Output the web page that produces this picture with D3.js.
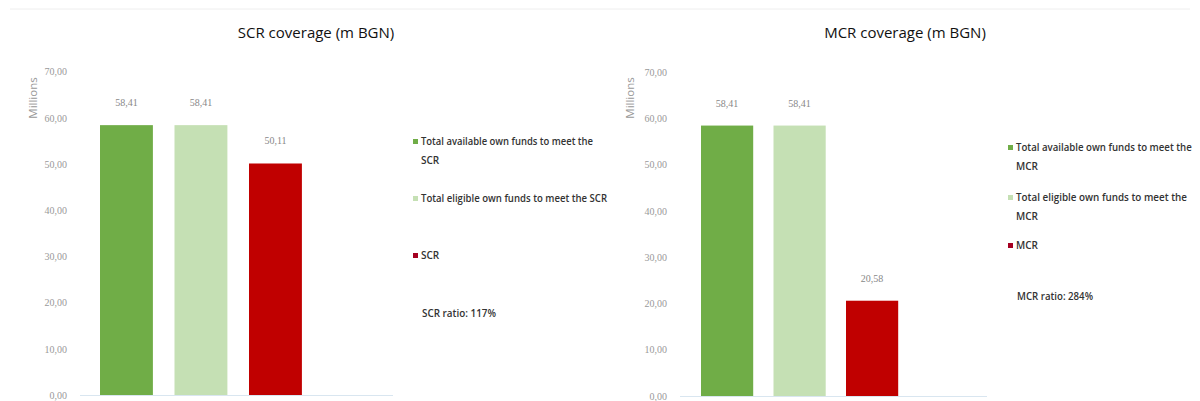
<!DOCTYPE html>
<html><head><meta charset="utf-8">
<script src="https://cdn.jsdelivr.net/npm/d3@7/dist/d3.min.js"></script>
<style>body{margin:0;background:#fff}svg{display:block}</style>
</head><body><svg id="c" width="1200" height="401"></svg>
<script>
const categories = ["Total available own funds", "Total eligible own funds", "Requirement"];
const scrValues = [58.41, 58.41, 50.11];
const mcrValues = [58.41, 58.41, 20.58];
const yTicks = [0, 10, 20, 30, 40, 50, 60, 70];
const barColors = ["#70AD47", "#C5E0B4", "#C00000"];
const legendColors = ["#70AD47", "#C5E0B4", "#A50021"];
const scrLegend = [["Total available own funds to meet the", "SCR"], ["Total eligible own funds to meet the SCR"], ["SCR"]];
const mcrLegend = [["Total available own funds to meet the", "MCR"], ["Total eligible own funds to meet the", "MCR"], ["MCR"]];
const titles = ["SCR coverage (m BGN)", "MCR coverage (m BGN)"];
const ratios = ["SCR ratio: 117%", "MCR ratio: 284%"];

const svg = d3.select("#c");
const fmt = v => d3.format(".2f")(v).replace(".", ",");

svg.append("line").attr("x1",10).attr("x2",1190).attr("y1",9).attr("y2",9).attr("stroke","#eeeeee");

function panel(cfg) {
  const g = svg.append("g");
  const y = d3.scaleLinear().domain([0, 70]).range([cfg.base, cfg.base - 7 * cfg.step]);
  const x = d3.scaleBand().domain(categories).range([cfg.x0, cfg.x1]).paddingInner(cfg.pad).paddingOuter(cfg.padOut);
  g.append("text").attr("x", cfg.titleX).attr("y", 38).attr("text-anchor", "middle")
    .attr("font-family", "Open Sans, sans-serif").attr("font-size", 15).attr("fill", "#111")
    .text(cfg.title);
  const ax = g.append("g").attr("transform", `translate(${cfg.axisX},0)`)
    .call(d3.axisLeft(y).tickValues(yTicks).tickFormat(fmt).tickSize(0).tickPadding(0));
  ax.select(".domain").remove();
  ax.selectAll("text").attr("font-family", "Liberation Serif, serif").attr("font-size", 10).attr("fill", "#999");
  g.append("text").attr("transform", `translate(${cfg.millX},${cfg.millY}) rotate(-90)`)
    .attr("text-anchor", "middle").attr("font-family", "Open Sans, sans-serif").attr("font-size", 11.5).attr("fill", "#999")
    .text("Millions");
  g.append("line").attr("x1", cfg.lineX0).attr("x2", cfg.lineX1).attr("y1", cfg.base + 0.5).attr("y2", cfg.base + 0.5)
    .attr("stroke", "#d9e6f0");
  g.selectAll("rect.bar").data(cfg.values).join("rect").attr("class", "bar")
    .attr("x", (d, i) => x(categories[i])).attr("width", x.bandwidth())
    .attr("y", d => y(d)).attr("height", d => cfg.base - y(d)).attr("fill", (d, i) => barColors[i]);
  g.selectAll("text.val").data(cfg.values).join("text").attr("class", "val")
    .attr("x", (d, i) => x(categories[i]) + x.bandwidth() / 2).attr("y", d => y(d) - 19)
    .attr("text-anchor", "middle").attr("font-family", "Liberation Serif, serif").attr("font-size", 10).attr("fill", "#888")
    .text(fmt);
  cfg.legend.forEach((lines, i) => {
    const ly = cfg.legY[i];
    g.append("rect").attr("x", cfg.legX - 8).attr("y", ly - 6).attr("width", 5).attr("height", 5).attr("fill", legendColors[i]);
    lines.forEach((ln, j) => {
      const t = g.append("text").attr("x", cfg.legX).attr("y", ly + j * cfg.lineH)
        .attr("font-family", "Open Sans, sans-serif").attr("font-size", 10).attr("font-weight", 600)
        .attr("fill", "#333").text(ln);
      if (ln.length > 30) t.attr("textLength", ln.length * cfg.charW).attr("lengthAdjust", "spacingAndGlyphs");
    });
  });
  g.append("text").attr("x", cfg.legX + 1).attr("y", cfg.ratioY)
    .attr("font-family", "Open Sans, sans-serif").attr("font-size", 10).attr("font-weight", 600).attr("fill", "#333")
    .text(cfg.ratio).attr("textLength", cfg.ratioW).attr("lengthAdjust", "spacingAndGlyphs");
}

panel({title: titles[0], titleX: 316, values: scrValues, legend: scrLegend, ratio: ratios[0],
  base: 395, step: 46.2, axisX: 67, x0: 85.1, x1: 316.8, pad: 0.29, padOut: 0.2, lineX0: 80, lineX1: 393,
  millX: 37, millY: 98, legX: 421, legY: [145, 202, 259], lineH: 19, charW: 4.65, ratioY: 317, ratioW: 74});
panel({title: titles[1], titleX: 905, values: mcrValues, legend: mcrLegend, ratio: ratios[1],
  base: 396, step: 46.3, axisX: 667, x0: 686.5, x1: 912.7, pad: 0.28, padOut: 0.2, lineX0: 680, lineX1: 987,
  millX: 634, millY: 98, legX: 1016, legY: [151, 201, 249], lineH: 19, charW: 4.75, ratioY: 300, ratioW: 76});
</script></body></html>
